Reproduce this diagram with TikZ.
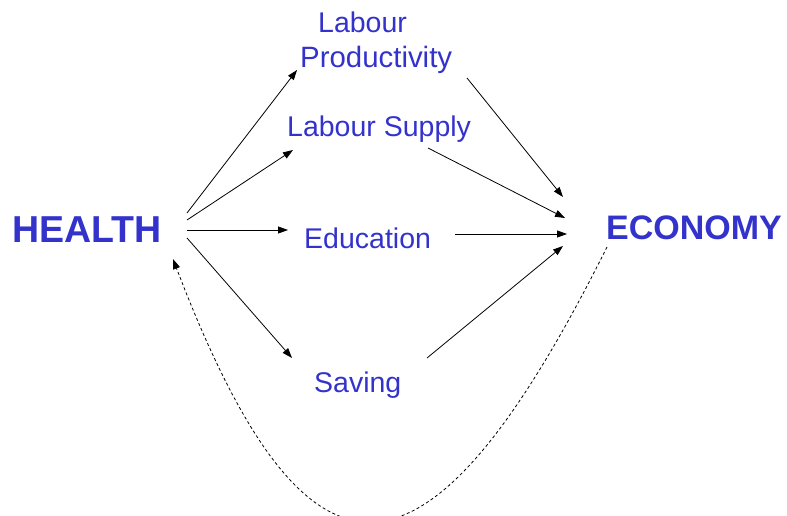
\documentclass[tikz,border=0pt]{standalone}
\usepackage{fontspec}
\setmainfont{Liberation Sans}
\usetikzlibrary{arrows.meta}
\definecolor{txtblue}{RGB}{51,51,204}
\tikzset{
  lbl/.style={text=txtblue, inner sep=0pt, anchor=base west, font=\fontsize{28.5}{34}\selectfont},
  big/.style={text=txtblue, inner sep=0pt, anchor=base west, font=\bfseries\fontsize{35}{40}\selectfont},
  arr/.style={draw=black, line width=0.8pt, -{Triangle[length=10pt,width=7pt]}},
  fb/.style={draw=black, line width=0.8pt, dash pattern=on 3pt off 2.5pt, -{Triangle[length=10pt,width=7pt]}}
}
\begin{document}
\begin{tikzpicture}[x=1pt,y=-1pt]
\useasboundingbox (0,0) rectangle (787,516);
\clip (0,0) rectangle (787,516);
% texts
\node[big, font=\bfseries\fontsize{37.5}{42}\selectfont] (health) at (12,242) {HEALTH};
\node[big, font=\bfseries\fontsize{34}{40}\selectfont] (economy) at (606,239) {ECONOMY};
\node[lbl] (prodA) at (318,33) {Labour};
\node[lbl, font=\fontsize{29.4}{34}\selectfont] (prodB) at (300,68) {Productivity};
\node[lbl] (supply) at (287,137) {Labour Supply};
\node[lbl] (edu) at (304,248) {Education};
\node[lbl] (saving) at (314,392) {Saving};
% connector ends
\coordinate (h1) at (187,213);
\coordinate (h2) at (187,220);
\coordinate (h3) at (187,230);
\coordinate (h4) at (187,238);
\coordinate (p1) at (297,70);
\coordinate (s1) at (293,150);
\coordinate (e1) at (288,230);
\coordinate (v1) at (292,358);
\coordinate (p2) at (467,78);
\coordinate (s2) at (428,148);
\coordinate (e2) at (455,234);
\coordinate (v2) at (427,358);
\coordinate (c1) at (563,197);
\coordinate (c2) at (565,218);
\coordinate (c3) at (567,234);
\coordinate (c4) at (563,246);
\coordinate (fbs) at (607,247);
\coordinate (fbe) at (173,259);
% arrows
\draw[arr] (h1) -- (p1);
\draw[arr] (h2) -- (s1);
\draw[arr] (h3) -- (e1);
\draw[arr] (h4) -- (v1);
\draw[arr] (p2) -- (c1);
\draw[arr] (s2) -- (c2);
\draw[arr] (e2) -- (c3);
\draw[arr] (v2) -- (c4);
% feedback
\draw[fb] (fbs) .. controls (428,605) and (309,615) .. (fbe);
\end{tikzpicture}
\end{document}
